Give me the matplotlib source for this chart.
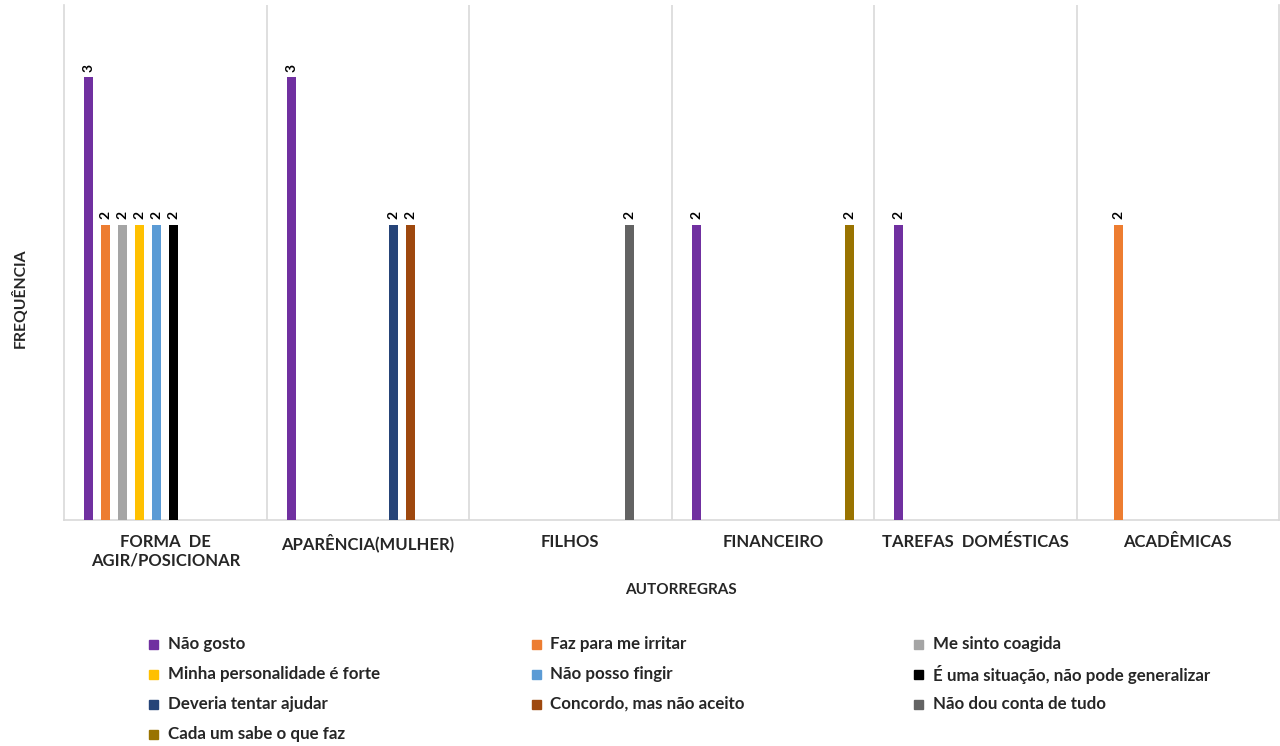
import numpy as np
import matplotlib.pyplot as plt
from matplotlib.patches import Rectangle

plt.rcParams['font.family'] = ['Lato', 'DejaVu Sans']
plt.rcParams['font.weight'] = 'bold'

# Categorias (eixo x) e séries
categorias = ["FORMA  DE\nAGIR/POSICIONAR", "APARÊNCIA(MULHER)", "FILHOS",
              "FINANCEIRO", "TAREFAS  DOMÉSTICAS", "ACADÊMICAS"]

series = ["Não gosto", "Faz para me irritar", "Me sinto coagida",
          "Minha personalidade é forte", "Não posso fingir",
          "É uma situação, não pode generalizar", "Deveria tentar ajudar",
          "Concordo, mas não aceito", "Não dou conta de tudo",
          "Cada um sabe o que faz"]

cores = ["#7030A0", "#ED7D31", "#A5A5A5", "#FFC000", "#5B9BD5",
         "#000000", "#264478", "#9E480E", "#636363", "#997300"]

# frequência de cada série por categoria
nao_gosto = [3, 3, 0, 2, 2, 0]
faz_irritar = [2, 0, 0, 0, 0, 2]
coagida = [2, 0, 0, 0, 0, 0]
personalidade = [2, 0, 0, 0, 0, 0]
fingir = [2, 0, 0, 0, 0, 0]
situacao = [2, 0, 0, 0, 0, 0]
ajudar = [0, 2, 0, 0, 0, 0]
concordo = [0, 2, 0, 0, 0, 0]
nao_dou_conta = [0, 0, 2, 0, 0, 0]
cada_um = [0, 0, 0, 2, 0, 0]

valores = [nao_gosto, faz_irritar, coagida, personalidade, fingir,
           situacao, ajudar, concordo, nao_dou_conta, cada_um]

fig = plt.figure(figsize=(12.8, 7.46), dpi=100)
ax = fig.add_axes([64 / 1280, 1 - 520 / 746, 1215 / 1280, 515 / 746])

x = np.arange(len(categorias))
passo = 0.084
largura = 0.045

for j, (nome, vals, cor) in enumerate(zip(series, valores, cores)):
    pos = x + (j - 4.5) * passo
    vals = np.array(vals)
    ax.bar(pos, vals, width=largura, color=cor, label=nome, zorder=3)
    for xp, v in zip(pos, vals):
        if v > 0:
            ax.annotate(str(v), (xp, v), xytext=(0, 4), textcoords="offset points",
                        rotation=90, ha="center", va="bottom",
                        fontsize=10, fontweight="bold")

ax.set_xlim(-0.5, len(categorias) - 0.5)
ax.set_ylim(0, 3.49)
ax.set_yticks([])
ax.set_xticks(x)
ax.set_xticklabels(categorias, fontsize=12, fontweight="bold", color="#262626",
                   linespacing=1.2)
ax.tick_params(axis="x", length=0, pad=10)
ax.set_xticks(np.arange(0.5, len(categorias) - 0.5), minor=True)
ax.tick_params(axis="x", which="minor", length=0)
ax.grid(axis="x", which="minor", color="#D9D9D9", linewidth=1.2, zorder=0)

for lado in ["left", "right", "bottom"]:
    ax.spines[lado].set_color("#D9D9D9")
    ax.spines[lado].set_linewidth(1.2)
ax.spines["top"].set_visible(False)

fig.text(681 / 1280, 1 - 590 / 746, "AUTORREGRAS", ha="center", va="center",
         fontsize=11, fontweight="bold", color="#262626")
fig.text(20 / 1280, 1 - 298 / 746, "FREQUÊNCIA", ha="center", va="center",
         rotation=90, fontsize=11.3, fontweight="bold", color="#262626")

# legenda em 3 colunas, preenchida por linha
for k, (nome, cor) in enumerate(zip(series, cores)):
    linha, col = divmod(k, 3)
    xl = (149 + col * 382.5) / 1280
    yl = 1 - (644 + linha * 30) / 746
    fig.add_artist(Rectangle((xl, yl - 4.5 / 746), 9 / 1280, 9 / 746,
                             transform=fig.transFigure, color=cor))
    fig.text(xl + 19 / 1280, yl, nome, ha="left", va="center",
             fontsize=12.2, fontweight="bold", color="#262626")

fig.savefig("out.png", dpi=100)
